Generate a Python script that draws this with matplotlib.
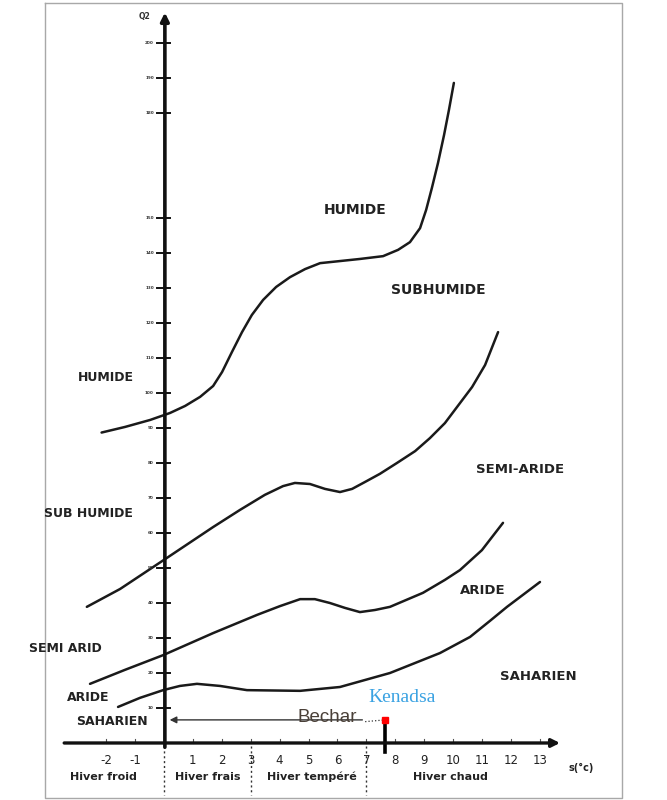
import numpy as np
import matplotlib.pyplot as plt

# limit curves of the Emberger climagram (m in degC, Q2)
m_humide = [-2.16, -1.35, -0.48, 0.21, 0.73, 1.25, 1.70, 2.01, 2.35, 2.70, 3.04, 3.43, 3.88, 4.36, 4.88, 5.40,
            6.09, 6.78, 7.58, 8.10, 8.51, 8.86, 9.07, 9.27, 9.48, 9.69, 9.86, 10.03]
q_humide = [88.7, 90.3, 92.3, 94.3, 96.3, 98.9, 102.0, 106.0, 111.7, 117.4, 122.3, 126.6, 130.3, 133.1, 135.4, 137.1,
            137.7, 138.3, 139.1, 140.9, 143.1, 147.1, 152.3, 158.6, 165.7, 173.7, 180.9, 188.6]

m_subhum = [-2.67, -1.52, 0.14, 1.70, 2.63, 3.49, 4.12, 4.53, 5.05, 5.57, 6.09, 6.51, 6.96, 7.47, 8.06, 8.69,
            9.20, 9.72, 10.24, 10.66, 11.11, 11.56]
q_subhum = [38.9, 44.0, 53.1, 61.7, 66.6, 70.9, 73.4, 74.3, 74.0, 72.6, 71.7, 72.6, 74.6, 76.9, 80.0, 83.4,
            87.1, 91.4, 97.1, 101.7, 108.0, 117.4]

m_semiar = [-2.56, -1.35, -0.03, 1.70, 3.22, 4.01, 4.71, 5.22, 5.74, 6.26, 6.78, 7.30, 7.82, 8.96, 9.72, 10.24,
            11.00, 11.73]
q_semiar = [16.9, 20.9, 25.1, 31.4, 36.6, 39.1, 41.1, 41.1, 40.0, 38.6, 37.4, 38.0, 38.9, 42.9, 46.6, 49.4,
            55.1, 62.9]

m_aride = [-1.59, -0.83, -0.03, 0.55, 1.14, 1.94, 2.87, 4.71, 6.09, 7.82, 9.55, 10.59, 11.28, 11.87, 12.32, 13.01]
q_aride = [10.3, 12.9, 15.1, 16.3, 16.9, 16.3, 15.1, 14.9, 16.0, 20.0, 25.7, 30.3, 34.9, 38.9, 41.7, 46.0]

# station
bechar_m, bechar_q = 7.65, 6.6

x_ticks = [-2, -1, 1, 2, 3, 4, 5, 6, 7, 8, 9, 10, 11, 12, 13]
y_ticks = [10, 20, 30, 40, 50, 60, 70, 80, 90, 100, 110, 120, 130, 140, 150, 180, 190, 200]
winter_bounds = [0, 3, 7]
winters = ['Hiver froid', 'Hiver frais', 'Hiver tempéré', 'Hiver chaud']
winter_m = [-2.11, 1.52, 5.12, 9.9]

fig = plt.figure(figsize=(6.67, 8), dpi=100)
ax = fig.add_axes([0, 0, 1, 1])
ax.set_xlim(-5.675, 17.405)
ax.set_ylim(-16.29, 212.29)
ax.axis('off')

# frame
ax.plot([-4.12, 15.85, 15.85, -4.12, -4.12], [211.4, 211.4, -15.7, -15.7, 211.4], color='#a8a8a8', lw=1)

# axes with arrows
ax.annotate('', xy=(13.8, 0), xytext=(-3.55, 0),
            arrowprops=dict(arrowstyle='-|>', color='#111', lw=2.4, mutation_scale=12))
ax.annotate('', xy=(0.03, 209.5), xytext=(0.03, -2),
            arrowprops=dict(arrowstyle='-|>', color='#111', lw=2.6, mutation_scale=12))

for t in x_ticks:
    ax.plot([t, t], [0, 1.2], color='#555', lw=0.8)
    ax.text(t, -4.9, str(t), ha='center', va='center', fontsize=8.5, color='#222')
for t in y_ticks:
    ax.plot([-0.25, 0.2], [t, t], color='#111', lw=1.4)
    ax.text(-0.35, t, str(t), ha='right', va='center', fontsize=3, fontweight='bold', color='#333')

for b in winter_bounds:
    ax.plot([b, b], [-1, -15], color='#333', lw=1, ls=(0, (1.5, 2)))
for name, m in zip(winters, winter_m):
    ax.text(m, -9.7, name, ha='center', va='center', fontsize=8, fontweight='bold', color='#222')

ax.text(13.98, -7.1, 's(°c)', ha='left', va='center', fontsize=7, fontweight='bold', color='#222')
ax.text(-0.66, 207.7, 'Q2', ha='center', va='center', fontsize=5.5, fontweight='bold', color='#333')

for mm, qq in [(m_humide, q_humide), (m_subhum, q_subhum), (m_semiar, q_semiar), (m_aride, q_aride)]:
    ax.plot(mm, qq, color='#1a1a1a', lw=1.8, solid_joinstyle='round', solid_capstyle='round')

lab = dict(fontweight='bold', color='#222', va='center')
ax.text(6.61, 152.3, 'HUMIDE', ha='center', fontsize=10, **lab)
ax.text(9.48, 129.4, 'SUBHUMIDE', ha='center', fontsize=10, **lab)
ax.text(12.32, 78.0, 'SEMI-ARIDE', ha='center', fontsize=9.5, **lab)
ax.text(11.04, 43.7, 'ARIDE', ha='center', fontsize=9.5, **lab)
ax.text(12.94, 19.1, 'SAHARIEN', ha='center', fontsize=9.5, **lab)
ax.text(-2.01, 104.3, 'HUMIDE', ha='center', fontsize=9, **lab)
ax.text(-2.63, 65.7, 'SUB HUMIDE', ha='center', fontsize=9, **lab)
ax.text(-3.43, 27.1, 'SEMI ARID', ha='center', fontsize=9, **lab)
ax.text(-2.63, 13.1, 'ARIDE', ha='center', fontsize=9, **lab)
ax.text(-1.80, 6.0, 'SAHARIEN', ha='center', fontsize=9, **lab)

# Bechar / Kenadsa
ax.annotate('', xy=(0.1, bechar_q), xytext=(6.96, bechar_q),
            arrowprops=dict(arrowstyle='-|>', color='#333', lw=1.0, mutation_scale=10))
ax.plot([6.96, bechar_m], [bechar_q - 0.5, bechar_q], color='#333', lw=0.9, ls=':')
ax.plot([bechar_m, bechar_m], [bechar_q, -2.5], color='#000', lw=2.6)
ax.plot(bechar_m, bechar_q, marker='s', color='red', ms=4)
ax.text(5.64, 7.4, 'Bechar', ha='center', va='center', fontsize=13.5, family='Liberation Sans', color='#4a4038')
ax.text(8.24, 13.1, 'Kenadsa', ha='center', va='center', fontsize=14, family='Liberation Serif', color='#3aa2e2')

fig.savefig('out.png', dpi=100)
